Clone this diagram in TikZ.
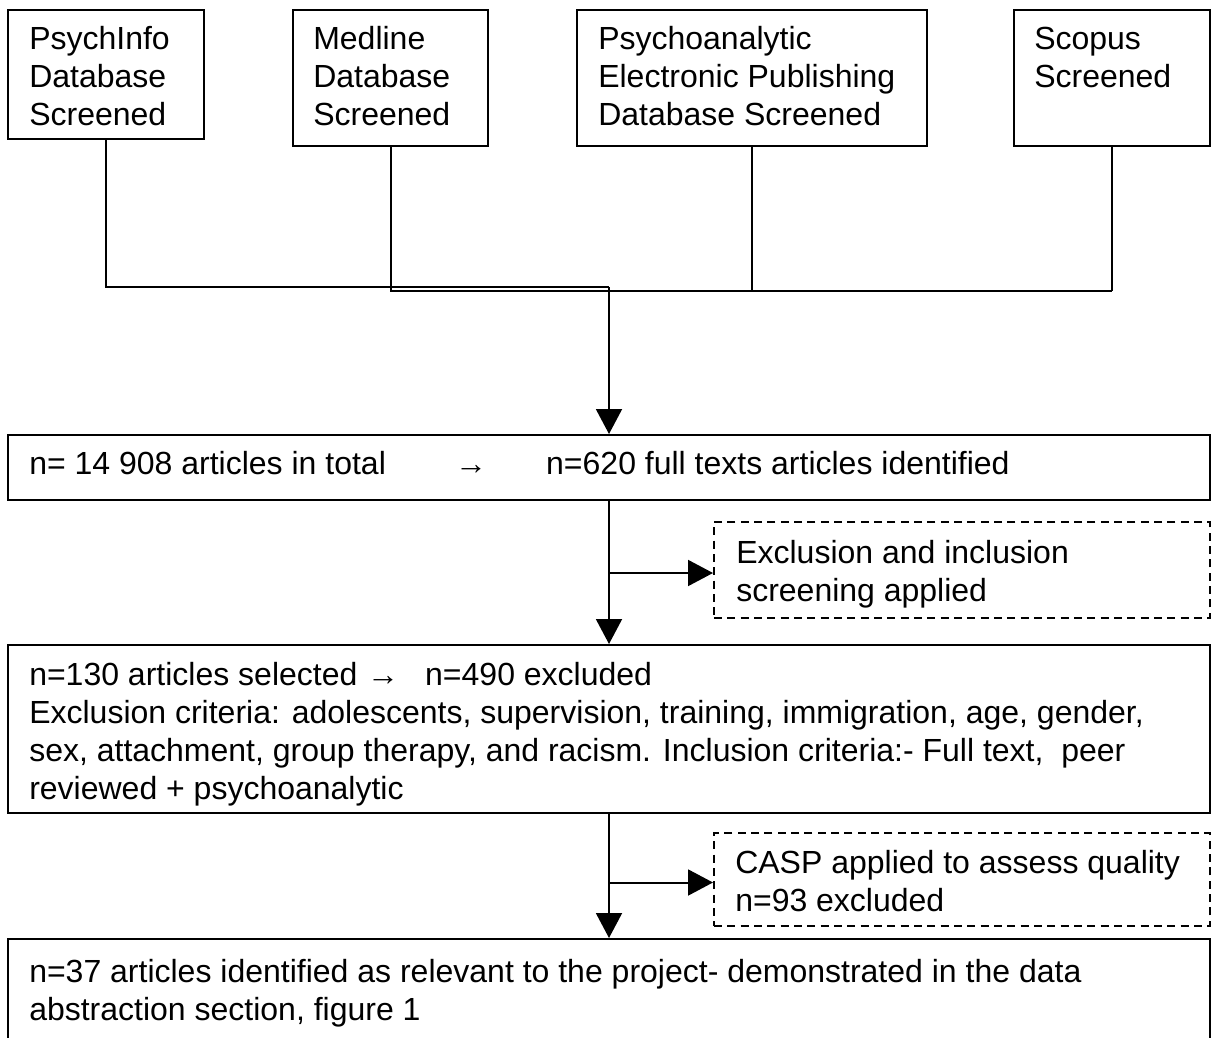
\documentclass[tikz,border=0pt]{standalone}
\usepackage{fontspec}
\setmainfont{Liberation Sans}
\usetikzlibrary{arrows.meta}
\newcommand{\mylines}[1]{\begin{tabular}[t]{@{}l@{}}#1\end{tabular}}
\begin{document}
\begin{tikzpicture}[x=0.75pt,y=-0.75pt,
  box/.style={draw, line width=1.5pt, rectangle, inner sep=0pt},
  dbox/.style={box, dash pattern=on 6pt off 4pt},
  txt/.style={anchor=base west, inner sep=0pt, font=\fontsize{24}{28.5}\selectfont},
  conn/.style={line width=1.5pt},
  arr/.style={conn, -{Triangle[length=18.75pt,width=19.5pt]}},
]
\useasboundingbox (0,0) rectangle (1211,1038);
\clip (0,0) rectangle (1211,1038);

% boxes
\node[box, minimum width=147pt, minimum height=96.75pt] (b1) at (106,74.5) {};
\node[box, minimum width=146.25pt, minimum height=102pt] (b2) at (390.5,78) {};
\node[box, minimum width=262.5pt, minimum height=102pt] (b3) at (752,78) {};
\node[box, minimum width=147pt, minimum height=102pt] (b4) at (1112,78) {};
\node[box, minimum width=901.5pt, minimum height=48.75pt] (b5) at (609,467.5) {};
\node[dbox, minimum width=372pt, minimum height=72pt] (d1) at (962,570) {};
\node[box, minimum width=901.5pt, minimum height=126pt] (b6) at (609,729) {};
\node[dbox, minimum width=372pt, minimum height=69.75pt] (d2) at (962,879.5) {};
\node[box, minimum width=901.5pt, minimum height=98.25pt] (b7) at (609,1004.5) {};

% texts
\node[txt] (t1) at (29,50) {\mylines{PsychInfo\\Database\\Screened}};
\node[txt] (t2) at (313,50) {\mylines{Medline\\Database\\Screened}};
\node[txt] (t3) at (598,50) {\mylines{Psychoanalytic\\Electronic Publishing\\Database Screened}};
\node[txt] (t4) at (1034,50) {\mylines{Scopus\\Screened}};
\node[txt] (t5) at (29,474) {\makebox[319.5pt][l]{n= 14 908 articles in total}\makebox[68.25pt][l]{→}n=620 full texts articles identified};
\node[txt] (td1) at (736,563) {\mylines{Exclusion and inclusion\\screening applied}};
\node[txt] (t6) at (29,685) {\mylines{\makebox[253.5pt][l]{n=130 articles selected}\makebox[43.5pt][l]{→}n=490 excluded\\
Exclusion criteria: adolescents, supervision, training, immigration, age, gender,\\
sex, attachment, group therapy, and racism. Inclusion criteria:- Full text,\ \ peer\\
reviewed + psychoanalytic}};
\node[txt] (td2) at (735,873) {\mylines{CASP applied to assess quality\\n=93 excluded}};
\node[txt] (t7) at (29,982) {\mylines{n=37 articles identified as relevant to the project- demonstrated in the data\\abstraction section, figure 1}};

% connectors
\coordinate (j1) at (b5.north |- 0,287);
\coordinate (j2) at (b4.south |- 0,291);
\draw[conn] (b1.south) |- (j1);
\draw[arr] (j1) -- (b5.north);
\draw[conn] (b2.south) |- (j2);
\draw[conn] (b3.south) -- (b3.south |- j2);
\draw[conn] (b4.south) -- (j2);
\draw[arr] (b5.south) -- (b6.north);
\draw[arr] ([yshift=-2.25pt]b5.south |- d1.west) -- ([yshift=-2.25pt]d1.west);
\draw[arr] (b6.south) -- (b7.north);
\draw[arr] ([yshift=-2.25pt]b6.south |- d2.west) -- ([yshift=-2.25pt]d2.west);
\end{tikzpicture}
\end{document}
